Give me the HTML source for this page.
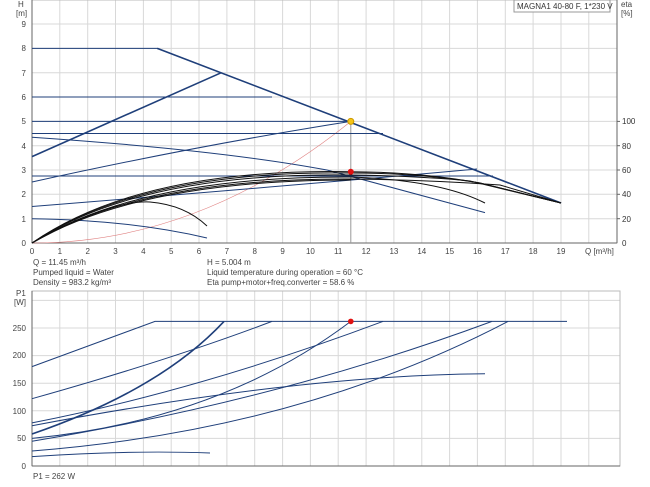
<!DOCTYPE html>
<html><head><meta charset="utf-8"><style>
body{margin:0;background:#fff;}
svg{display:block;font-family:"Liberation Sans",sans-serif;}
</style></head><body>
<svg width="650" height="487" viewBox="0 0 650 487" xmlns="http://www.w3.org/2000/svg">
<g stroke="#d8d8d8" stroke-width="1">
<line x1="59.8" y1="0" x2="59.8" y2="243"/><line x1="87.7" y1="0" x2="87.7" y2="243"/><line x1="115.5" y1="0" x2="115.5" y2="243"/><line x1="143.4" y1="0" x2="143.4" y2="243"/><line x1="171.2" y1="0" x2="171.2" y2="243"/><line x1="199" y1="0" x2="199" y2="243"/><line x1="226.9" y1="0" x2="226.9" y2="243"/><line x1="254.7" y1="0" x2="254.7" y2="243"/><line x1="282.6" y1="0" x2="282.6" y2="243"/><line x1="310.4" y1="0" x2="310.4" y2="243"/><line x1="338.2" y1="0" x2="338.2" y2="243"/><line x1="366.1" y1="0" x2="366.1" y2="243"/><line x1="393.9" y1="0" x2="393.9" y2="243"/><line x1="421.8" y1="0" x2="421.8" y2="243"/><line x1="449.6" y1="0" x2="449.6" y2="243"/><line x1="477.4" y1="0" x2="477.4" y2="243"/><line x1="505.3" y1="0" x2="505.3" y2="243"/><line x1="533.1" y1="0" x2="533.1" y2="243"/><line x1="561" y1="0" x2="561" y2="243"/><line x1="588.8" y1="0" x2="588.8" y2="243"/>
<line x1="32" y1="218.7" x2="617" y2="218.7"/><line x1="32" y1="194.3" x2="617" y2="194.3"/><line x1="32" y1="170" x2="617" y2="170"/><line x1="32" y1="145.7" x2="617" y2="145.7"/><line x1="32" y1="121.4" x2="617" y2="121.4"/><line x1="32" y1="97" x2="617" y2="97"/><line x1="32" y1="72.7" x2="617" y2="72.7"/><line x1="32" y1="48.4" x2="617" y2="48.4"/><line x1="32" y1="24" x2="617" y2="24"/>
</g>
<rect x="32" y="0" width="585" height="243" fill="none" stroke="#bbb"/>
<line x1="32" y1="243" x2="617" y2="243" stroke="#666"/>
<line x1="32" y1="0" x2="32" y2="243" stroke="#666"/>
<line x1="617" y1="0" x2="617" y2="243" stroke="#666"/>
<g font-size="8" fill="#444" text-anchor="end">
<text x="26" y="246">0</text><text x="26" y="222">1</text><text x="26" y="197">2</text><text x="26" y="173">3</text><text x="26" y="149">4</text><text x="26" y="124">5</text><text x="26" y="100">6</text><text x="26" y="76">7</text><text x="26" y="51">8</text><text x="26" y="27">9</text>
</g>
<text x="18" y="7" font-size="8" fill="#444">H</text><text x="16" y="16" font-size="8" fill="#444">[m]</text>
<g font-size="8" fill="#444" text-anchor="middle">
<text x="32" y="254">0</text><text x="59.8" y="254">1</text><text x="87.7" y="254">2</text><text x="115.5" y="254">3</text><text x="143.4" y="254">4</text><text x="171.2" y="254">5</text><text x="199" y="254">6</text><text x="226.9" y="254">7</text><text x="254.7" y="254">8</text><text x="282.6" y="254">9</text><text x="310.4" y="254">10</text><text x="338.2" y="254">11</text><text x="366.1" y="254">12</text><text x="393.9" y="254">13</text><text x="421.8" y="254">14</text><text x="449.6" y="254">15</text><text x="477.4" y="254">16</text><text x="505.3" y="254">17</text><text x="533.1" y="254">18</text><text x="561" y="254">19</text>
</g>
<text x="585" y="254" font-size="8" fill="#444">Q [m³/h]</text>
<g font-size="8" fill="#333"><text x="622" y="246">0</text><text x="622" y="222">20</text><text x="622" y="197">40</text><text x="622" y="173">60</text><text x="622" y="149">80</text><text x="622" y="124">100</text></g>
<g stroke="#666"><line x1="617" y1="218.7" x2="620" y2="218.7"/><line x1="617" y1="194.3" x2="620" y2="194.3"/><line x1="617" y1="170" x2="620" y2="170"/><line x1="617" y1="145.7" x2="620" y2="145.7"/><line x1="617" y1="121.4" x2="620" y2="121.4"/></g>
<text x="621" y="7" font-size="8" fill="#444">eta</text><text x="621" y="16" font-size="8" fill="#444">[%]</text>
<rect x="514" y="0" width="96" height="12" fill="#fff" stroke="#999"/>
<text x="517" y="9" font-size="8" fill="#333">MAGNA1 40-80 F, 1*230 V</text>
<line x1="350.8" y1="121.4" x2="350.8" y2="243" stroke="#999"/>
<path d="M32 243 Q200 243 350.8 121.4" fill="none" stroke="#e08080" stroke-width="0.6"/>
<g fill="none" stroke="#1f3f7a" stroke-width="1">
<polyline points="32,48.4 157.3,48.4 561,203"/>
<line x1="32" y1="97" x2="272" y2="97"/>
<line x1="32" y1="121.4" x2="350.8" y2="121.4"/>
<line x1="32" y1="133.5" x2="383" y2="133.5"/>
<path d="M32 137.2 Q220 150 327 170 L485 212.6"/>
<path d="M32 182 Q200 145 350.8 121.4"/>
<line x1="32" y1="176" x2="493" y2="176"/>
<path d="M32 206.5 Q300 185 477 169"/>
<path d="M32 218.7 Q130 220 207 238"/>
</g>
<g fill="none" stroke="#1f3f7a" stroke-width="1.6">
<line x1="32" y1="156.6" x2="221.3" y2="72.7"/>
<line x1="157.3" y1="48.4" x2="561" y2="203"/>
</g>
<g fill="none" stroke="#111" stroke-width="1">
<path d="M32 243 Q110 200 150 202 Q185 205 207 226"/>
<path d="M32 243 Q140 168 350.8 171.7 Q420 172 480 183 L561 203"/>
<path d="M32 243 Q140 170 350.8 173 Q420 173 480 183 L561 203"/>
<path d="M32 243 Q140 172 350.8 175 Q420 176 470 181 L561 203"/>
<path d="M32 243 Q140 176 350.8 177 Q440 180 485 203"/>
<path d="M32 243 Q140 178 350.8 179 Q430 180 500 185 L561 203"/>
<path d="M32 243 Q140 180 350.8 180"/>
</g>
<circle cx="350.8" cy="121.4" r="3" fill="#f5c518" stroke="#c90"/>
<circle cx="350.8" cy="171.7" r="3" fill="#e01010"/>
<g font-size="8" fill="#444">
<text x="33" y="265">Q = 11.45 m³/h</text><text x="33" y="275">Pumped liquid = Water</text><text x="33" y="285">Density = 983.2 kg/m³</text>
<text x="207" y="265">H = 5.004 m</text><text x="207" y="275">Liquid temperature during operation = 60 °C</text><text x="207" y="285">Eta pump+motor+freq.converter = 58.6 %</text>
</g>
<g stroke="#d8d8d8">
<line x1="59.8" y1="291" x2="59.8" y2="466"/><line x1="87.7" y1="291" x2="87.7" y2="466"/><line x1="115.5" y1="291" x2="115.5" y2="466"/><line x1="143.4" y1="291" x2="143.4" y2="466"/><line x1="171.2" y1="291" x2="171.2" y2="466"/><line x1="199" y1="291" x2="199" y2="466"/><line x1="226.9" y1="291" x2="226.9" y2="466"/><line x1="254.7" y1="291" x2="254.7" y2="466"/><line x1="282.6" y1="291" x2="282.6" y2="466"/><line x1="310.4" y1="291" x2="310.4" y2="466"/><line x1="338.2" y1="291" x2="338.2" y2="466"/><line x1="366.1" y1="291" x2="366.1" y2="466"/><line x1="393.9" y1="291" x2="393.9" y2="466"/><line x1="421.8" y1="291" x2="421.8" y2="466"/><line x1="449.6" y1="291" x2="449.6" y2="466"/><line x1="477.4" y1="291" x2="477.4" y2="466"/><line x1="505.3" y1="291" x2="505.3" y2="466"/><line x1="533.1" y1="291" x2="533.1" y2="466"/><line x1="561" y1="291" x2="561" y2="466"/><line x1="588.8" y1="291" x2="588.8" y2="466"/>
<line x1="32" y1="438.4" x2="620" y2="438.4"/><line x1="32" y1="410.8" x2="620" y2="410.8"/><line x1="32" y1="383.2" x2="620" y2="383.2"/><line x1="32" y1="355.6" x2="620" y2="355.6"/><line x1="32" y1="328" x2="620" y2="328"/><line x1="32" y1="300.4" x2="620" y2="300.4"/>
</g>
<rect x="32" y="291" width="588" height="175" fill="none" stroke="#bbb"/>
<line x1="32" y1="466" x2="620" y2="466" stroke="#666"/><line x1="32" y1="291" x2="32" y2="466" stroke="#666"/>
<g font-size="8" fill="#444" text-anchor="end">
<text x="26" y="469">0</text><text x="26" y="441">50</text><text x="26" y="414">100</text><text x="26" y="386">150</text><text x="26" y="358">200</text><text x="26" y="331">250</text>
</g>
<text x="16" y="296" font-size="8" fill="#444">P1</text><text x="14" y="305" font-size="8" fill="#444">[W]</text>
<g fill="none" stroke="#1f3f7a" stroke-width="1">
<polyline points="32,366.6 155,321.4 567,321.4"/>
<path d="M32 398.7 Q170 360 272 321.4"/>
<path d="M32 422.9 Q200 390 383 321.4"/>
<path d="M32 425.7 Q300 375 485 373.8"/>
<path d="M32 438.4 Q220 420 350.8 321.4"/>
<path d="M32 441.2 Q280 400 492 321.4"/>
<path d="M32 451 Q300 430 508 321.4"/>
<path d="M32 456.6 Q130 450 210 453"/>
</g>
<path d="M32 434 Q160 390 224 321.4" fill="none" stroke="#1f3f7a" stroke-width="1.6"/>
<circle cx="350.8" cy="321.4" r="2.8" fill="#e01010"/>
<text x="33" y="479" font-size="8" fill="#444">P1 = 262 W</text>
</svg>
</body></html>
